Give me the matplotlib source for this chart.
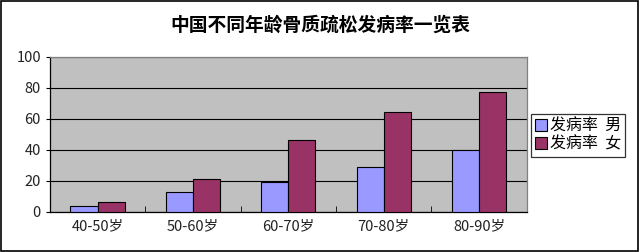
import matplotlib
matplotlib.use("Agg")
import matplotlib.pyplot as plt
import numpy as np
from matplotlib.patches import Rectangle

plt.rcParams['font.family'] = ['Noto Sans CJK SC', 'DejaVu Sans']

categories = ['40-50岁', '50-60岁', '60-70岁', '70-80岁', '80-90岁']
male = [4, 13, 19.5, 29, 40]
female = [6.5, 21.5, 46.5, 64.5, 77.5]
series_names = ['发病率  男', '发病率  女']
title = '中国不同年龄骨质疏松发病率一览表'

fig = plt.figure(figsize=(6.4, 2.52), dpi=100)
ax = fig.add_axes([0.078, 0.159, 0.745, 0.615])

x = np.arange(len(categories))
w = 0.285
ax.bar(x - w / 2, male, w, color='#9999FF', edgecolor='black', linewidth=0.8,
       label=series_names[0], zorder=3)
ax.bar(x + w / 2, female, w, color='#993366', edgecolor='black', linewidth=0.8,
       label=series_names[1], zorder=3)

ax.set_facecolor('#C0C0C0')
ax.set_xlim(-0.5, len(categories) - 0.5)
ax.set_ylim(0, 100)
ax.set_yticks(range(0, 101, 20))
ax.yaxis.grid(True, color='black', linewidth=0.8, zorder=1)
ax.set_axisbelow(True)

ax.set_xticks(x)
ax.set_xticklabels(categories, fontsize=10.5, color='#222222')
ax.tick_params(axis='x', length=0, pad=5)
ax.set_xticks(np.arange(0.5, len(categories) - 0.5, 1), minor=True)
ax.tick_params(axis='x', which='minor', direction='in', length=4, color='black')
ax.tick_params(axis='y', labelsize=10.5, length=3, labelcolor='#222222')

for s in ['left', 'bottom']:
    ax.spines[s].set_color('black')
    ax.spines[s].set_linewidth(0.9)
for s in ['top', 'right']:
    ax.spines[s].set_color('#808080')
    ax.spines[s].set_linewidth(0.9)

fig.text(0.5, 0.9, title, ha='center', va='center', fontsize=13.5, fontweight='bold')

leg = fig.legend(loc='upper left', bbox_to_anchor=(0.829, 0.548), fontsize=11.5,
                 frameon=True, fancybox=False, shadow=False, handlelength=0.75,
                 handleheight=0.75, handletextpad=0.2, borderpad=0.25,
                 labelspacing=0.05, borderaxespad=0)
leg.get_frame().set_edgecolor('black')
leg.get_frame().set_linewidth(0.9)

fig.patches.append(Rectangle((0.002, 0.004), 0.995, 0.992, transform=fig.transFigure,
                             fill=False, edgecolor='black', linewidth=1.2))

fig.savefig('out.png', dpi=100)
